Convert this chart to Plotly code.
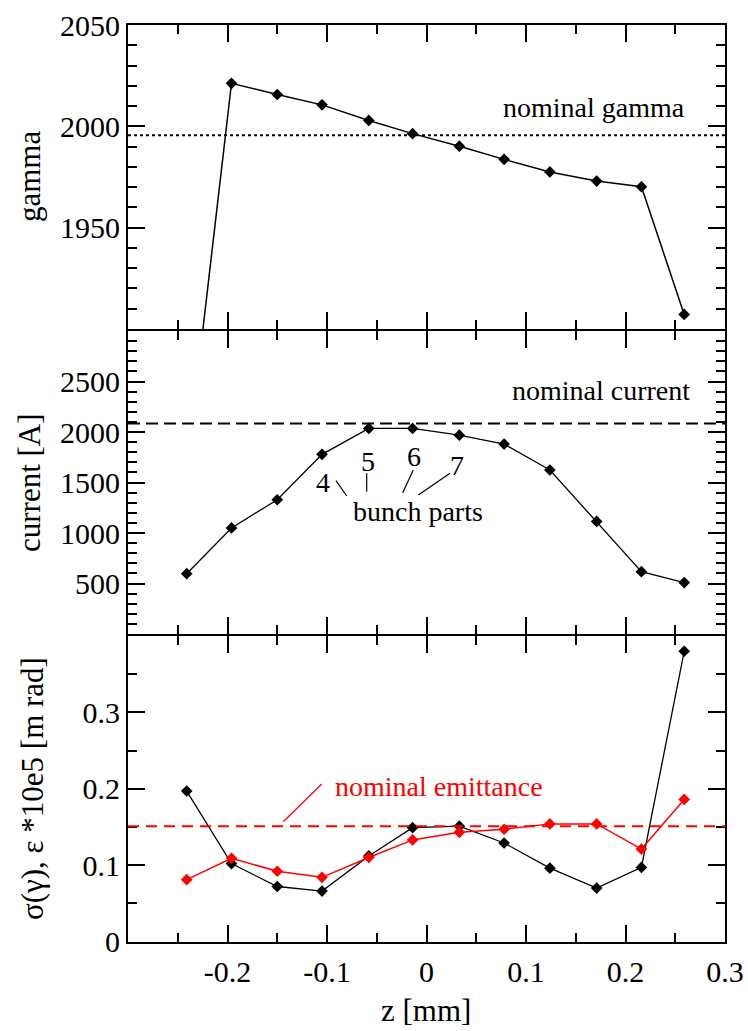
import plotly.graph_objects as go

# ---- data ----
z = [-0.241, -0.196, -0.150, -0.105, -0.058, -0.014, 0.033, 0.078, 0.124, 0.171, 0.216, 0.259]
gamma = [1831, 2021.2, 2015.7, 2010.6, 2002.9, 1996.4, 1990.2, 1983.7, 1977.5, 1973.0, 1970.2, 1907.2]
current = [597, 1050, 1329, 1779, 2035, 2035, 1969, 1880, 1624, 1115, 617, 509]
sigma_gamma = [0.197, 0.102, 0.072, 0.066, 0.112, 0.149, 0.151, 0.129, 0.096, 0.070, 0.097, 0.380]
emittance = [0.081, 0.109, 0.092, 0.084, 0.110, 0.133, 0.143, 0.147, 0.154, 0.154, 0.121, 0.186]
nominal_gamma = 1995.6
nominal_current = 2085
nominal_emittance = 0.151

x_ticks = [-0.2, -0.1, 0, 0.1, 0.2, 0.3]
x_ticktext = ["-0.2", "-0.1", "0", "0.1", "0.2", "0.3"]
g_ticks = [1950, 2000, 2050]
c_ticks = [500, 1000, 1500, 2000, 2500]
s_ticks = [0, 0.1, 0.2, 0.3]
s_ticktext = ["0", "0.1", "0.2", "0.3"]

W, H = 748, 1031
FONT = "Liberation Serif"


def px(x):
    return x / W


def py(y):
    return 1 - y / H


fig = go.Figure()

fig.add_trace(go.Scatter(x=z, y=gamma, xaxis="x3", yaxis="y3", mode="lines+markers",
                         line=dict(color="black", width=1.5),
                         marker=dict(symbol="diamond", size=9, color="black")))
fig.add_trace(go.Scatter(x=z, y=current, xaxis="x2", yaxis="y2", mode="lines+markers",
                         line=dict(color="black", width=1.3),
                         marker=dict(symbol="diamond", size=9, color="black")))
fig.add_trace(go.Scatter(x=z, y=sigma_gamma, xaxis="x", yaxis="y", mode="lines+markers",
                         line=dict(color="black", width=1.3),
                         marker=dict(symbol="diamond", size=9, color="black")))
fig.add_trace(go.Scatter(x=z, y=emittance, xaxis="x", yaxis="y", mode="lines+markers",
                         line=dict(color="red", width=1.5),
                         marker=dict(symbol="diamond", size=9, color="red")))

xdom = [px(128), px(725)]
dom_top = [py(329), py(25)]
dom_mid = [py(634), py(331)]
dom_bot = [py(941.5), py(636)]

axis_common = dict(showline=True, linecolor="black", linewidth=2, mirror="ticks",
                   ticks="inside", ticklen=17, tickwidth=1.6, tickcolor="black",
                   showgrid=False, zeroline=False, automargin=False,
                   tickfont=dict(family=FONT, size=30, color="black"))
minor_x = dict(tickmode="array", tickvals=[-0.25, -0.15, -0.05, 0.05, 0.15, 0.25],
               ticklen=9, tickwidth=1.6, tickcolor="black", ticks="inside", showgrid=False)

fig.update_layout(
    template="none",
    width=W, height=H, autosize=False,
    margin=dict(l=0, r=0, t=0, b=0, pad=0, autoexpand=False),
    paper_bgcolor="white", plot_bgcolor="white",
    showlegend=False,
    font=dict(family=FONT, color="black"),
    xaxis=dict(domain=xdom, range=[-0.3, 0.3], anchor="y", tickmode="array",
               tickvals=x_ticks, ticktext=x_ticktext, minor=minor_x,
               ticklabelstandoff=2, **axis_common),
    xaxis2=dict(domain=xdom, range=[-0.3, 0.3], anchor="y2", tickmode="array",
                tickvals=x_ticks, showticklabels=False, minor=minor_x, **axis_common),
    xaxis3=dict(domain=xdom, range=[-0.3, 0.3], anchor="y3", tickmode="array",
                tickvals=x_ticks, showticklabels=False, minor=minor_x, **axis_common),
    yaxis=dict(domain=dom_bot, range=[0, 0.4], anchor="x", tickmode="array",
               tickvals=s_ticks, ticktext=s_ticktext,
               minor=dict(tickmode="array", tickvals=[0.05, 0.15, 0.25, 0.35], ticklen=9,
                          tickwidth=1.6, tickcolor="black", ticks="inside"),
               **axis_common),
    yaxis2=dict(domain=dom_mid, range=[0, 3000], anchor="x2", tickmode="array",
                tickvals=c_ticks,
                minor=dict(tickmode="linear", tick0=0, dtick=100, ticklen=9,
                           tickwidth=1.6, tickcolor="black", ticks="inside"),
                **axis_common),
    yaxis3=dict(domain=dom_top, range=[1900, 2050], anchor="x3", tickmode="array",
                tickvals=g_ticks,
                minor=dict(tickmode="linear", tick0=1900, dtick=10, ticklen=9,
                           tickwidth=1.6, tickcolor="black", ticks="inside"),
                **axis_common),
)

fig.add_shape(type="line", xref="x3 domain", yref="y3", x0=0, x1=1,
              y0=nominal_gamma, y1=nominal_gamma,
              line=dict(color="black", width=2, dash="dot"))
fig.add_shape(type="line", xref="x2 domain", yref="y2", x0=0, x1=1,
              y0=nominal_current, y1=nominal_current,
              line=dict(color="black", width=2, dash="12px,6px"))
fig.add_shape(type="line", xref="x domain", yref="y", x0=0, x1=1,
              y0=nominal_emittance, y1=nominal_emittance,
              line=dict(color="red", width=2, dash="11px,7px"))

leaders = [
    ((336, 480.7), (346.7, 496), "black"),
    ((366.7, 473.3), (366.7, 491.7), "black"),
    ((413.3, 470), (402.7, 492.7), "black"),
    ((450, 473.3), (418.3, 495), "black"),
    ((321.7, 784), (283.3, 821.7), "red"),
]
for (x0, y0), (x1, y1), c in leaders:
    fig.add_shape(type="line", xref="paper", yref="paper",
                  x0=px(x0), y0=py(y0), x1=px(x1), y1=py(y1),
                  line=dict(color=c, width=1.2))


def ann(text, x, y, size=28, color="black", xanchor="center", angle=0):
    fig.add_annotation(text=text, x=px(x), y=py(y), xref="paper", yref="paper",
                       showarrow=False, xanchor=xanchor, yanchor="middle",
                       textangle=angle,
                       font=dict(family=FONT, size=size, color=color))


ann("nominal gamma", 687, 108, xanchor="right")
ann("nominal current", 692, 391, xanchor="right")
ann("4", 323, 483)
ann("5", 368, 461)
ann("6", 414, 456)
ann("7", 457, 465)
ann("bunch parts", 418, 512)
ann("nominal emittance", 333, 786, color="red", xanchor="left")

ann("gamma", 29, 177, size=31, angle=-90)
ann("current [A]", 30, 483, size=31, angle=-90)
ann("σ(γ), ε *10e5 [m rad]", 32, 789, size=31, angle=-90)
ann("z [mm]", 426, 1010, size=31)

fig.write_html("out.html")
